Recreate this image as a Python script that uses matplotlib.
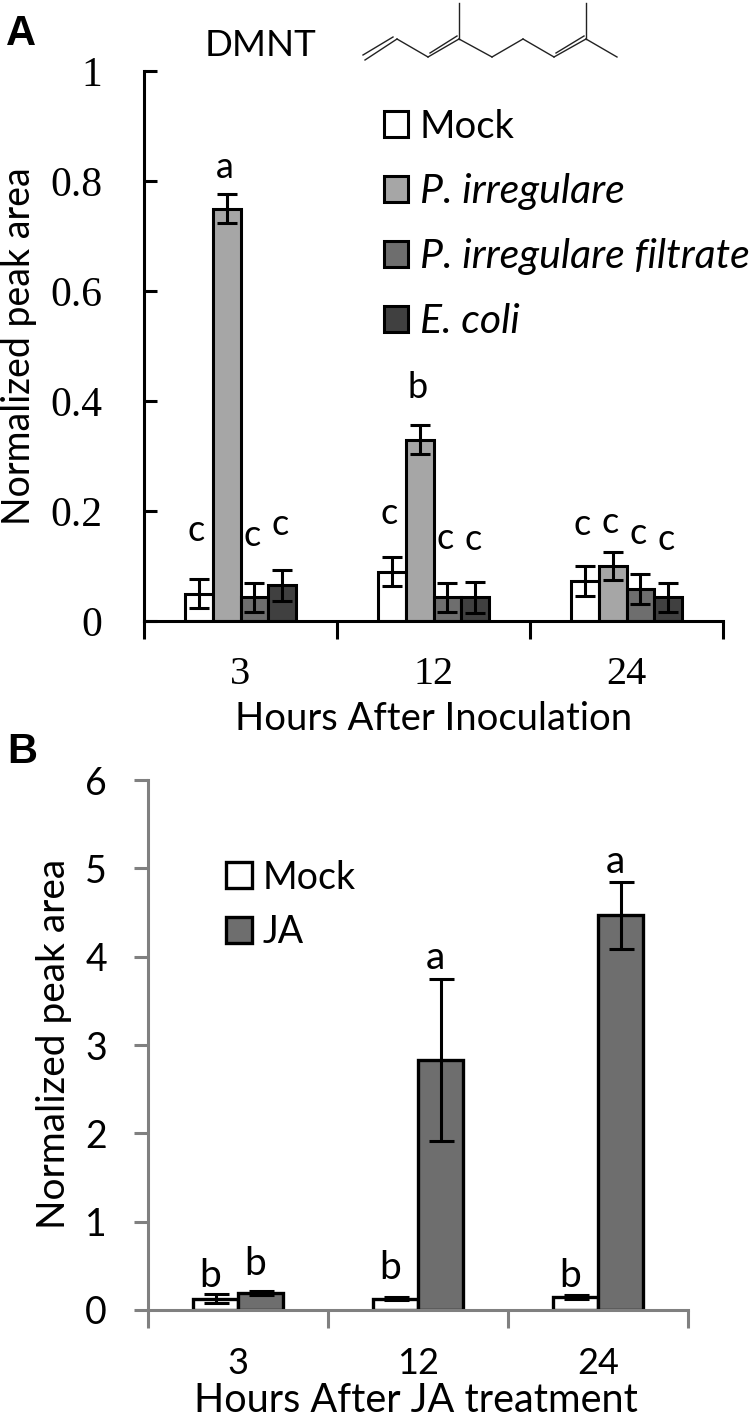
import numpy as np
import matplotlib
matplotlib.use('Agg')
import matplotlib.pyplot as plt

plt.rcParams['font.family'] = ['Lato', 'DejaVu Sans']
W, H = 752, 1419

# panel A
hours_a = ['3', '12', '24']
names_a = ['Mock', 'P. irregulare', 'P. irregulare filtrate', 'E. coli']
colors_a = ['white', '#a6a6a6', '#6e6e6e', '#404040']
vals_a = [[0.05, 0.09, 0.073],
          [0.75, 0.33, 0.10],
          [0.043, 0.043, 0.058],
          [0.065, 0.043, 0.043]]
errs_a = [[0.027, 0.027, 0.027],
          [0.026, 0.026, 0.026],
          [0.026, 0.027, 0.027],
          [0.028, 0.028, 0.027]]
letters_a = [['c', 'c', 'c'], ['a', 'b', 'c'], ['c', 'c', 'c'], ['c', 'c', 'c']]
letter_y_a = [[0.165, 0.195, 0.175], [0.825, 0.425, 0.18], [0.155, 0.15, 0.16], [0.175, 0.148, 0.148]]

# panel B
hours_b = ['3', '12', '24']
names_b = ['Mock', 'JA']
colors_b = ['white', '#6e6e6e']
vals_b = [[0.13, 0.13, 0.15], [0.19, 2.83, 4.47]]
errs_b = [[0.05, 0.02, 0.02], [0.025, 0.92, 0.38]]
letters_b = [['b', 'b', 'b'], ['b', 'a', 'a']]
letter_y_b = [[0.38, 0.48, 0.38], [0.52, 3.98, 5.07]]

# molecule outline (pixels of the figure)
bonds = [(365, 60, 397, 39), (397, 39, 428, 57), (428, 57, 459, 39), (459, 39, 492, 57),
         (492, 57, 523, 39), (523, 39, 554, 57), (554, 57, 586, 39), (586, 39, 617, 57),
         (459, 39, 459, 3), (586, 39, 586, 3), (363, 55, 393, 37), (430, 53, 457, 36), (556, 53, 584, 36)]


def px_axes(left, top, right, bottom):
    return fig.add_axes([left / W, 1 - bottom / H, (right - left) / W, (bottom - top) / H])


fig = plt.figure(figsize=(W / 100, H / 100), dpi=100)

# ---- A
ax = px_axes(144, 71, 723, 621)
x = np.arange(3)
w = 0.145
for i in range(4):
    pos = x + (i - 1.5) * w
    ax.bar(pos, vals_a[i], w, color=colors_a[i], edgecolor='black', linewidth=2.2, label=names_a[i],
           yerr=errs_a[i], error_kw=dict(ecolor='black', elinewidth=2.2, capsize=7, capthick=2.2))
    for j in range(3):
        ax.text(pos[j] - 0.01, letter_y_a[i][j], letters_a[i][j], ha='center', va='center', fontsize=26)
ax.set_xlim(-0.5, 2.5)
ax.set_ylim(0, 1)
ax.set_yticks([0, 0.2, 0.4, 0.6, 0.8, 1])
ax.set_yticklabels(['0', '0.2', '0.4', '0.6', '0.8', '1'], family='Liberation Serif', fontsize=30)
ax.set_xticks([-0.5, 0.5, 1.5, 2.5])
ax.set_xticklabels([])
ax.tick_params(axis='y', direction='in', length=9, width=2.2, pad=30)
ax.tick_params(axis='x', direction='out', length=13, width=2.2)
for s in ['top', 'right']:
    ax.spines[s].set_visible(False)
for s in ['left', 'bottom']:
    ax.spines[s].set_linewidth(2.2)
for j in range(3):
    ax.text(x[j], -0.098, hours_a[j], ha='center', va='center', family='Liberation Serif', fontsize=29)
fig.text(434 / W, 1 - 719 / H, 'Hours After Inoculation', ha='center', va='center', fontsize=27.5)
fig.text(19 / W, 1 - 346 / H, 'Normalized peak area', rotation=90, ha='center', va='center', fontsize=27)
h, l = ax.get_legend_handles_labels()
leg = ax.legend(h, l, loc='upper left', bbox_to_anchor=(0.415, 0.93), frameon=False, fontsize=29.5,
                handlelength=0.57, handleheight=0.6, handletextpad=0.3, labelspacing=0.68, borderpad=0, borderaxespad=0)
leg.get_texts()[0].set_fontsize(27.5)
for t in leg.get_texts()[1:]:
    t.set_style('italic')
fig.text(260 / W, 1 - 45 / H, 'DMNT', ha='center', va='center', fontsize=26.5)
fig.text(21 / W, 1 - 34 / H, 'A', ha='center', va='center', fontsize=30, fontweight='bold', family='Liberation Sans')
for b in bonds:
    fig.add_artist(plt.Line2D([b[0] / W, b[2] / W], [1 - b[1] / H, 1 - b[3] / H], color='#222222', linewidth=1))

# ---- B
gray = '#808080'
bx = px_axes(148, 780, 688, 1310)
w = 0.25
for i in range(2):
    pos = x + (i - 0.5) * w
    bx.bar(pos, vals_b[i], w, color=colors_b[i], edgecolor='black', linewidth=2.4, label=names_b[i],
           yerr=errs_b[i], error_kw=dict(ecolor='black', elinewidth=2.2, capsize=9, capthick=2.2))
    for j in range(3):
        bx.text(pos[j] - 0.03, letter_y_b[i][j], letters_b[i][j], ha='center', va='center', fontsize=28)
bx.set_xlim(-0.5, 2.5)
bx.set_ylim(0, 6)
bx.set_yticks(range(7))
bx.tick_params(axis='y', direction='out', length=10, width=2.2, color=gray, labelsize=27, pad=19.5)
bx.set_xticks([-0.5, 0.5, 1.5, 2.5])
bx.set_xticklabels([])
bx.tick_params(axis='x', direction='out', length=13, width=2.2, color=gray)
for s in ['top', 'right']:
    bx.spines[s].set_visible(False)
for s in ['left', 'bottom']:
    bx.spines[s].set_linewidth(2.2)
    bx.spines[s].set_color(gray)
for j in range(3):
    bx.text(x[j], -0.6, hours_b[j], ha='center', va='center', fontsize=26)
fig.text(416 / W, 1 - 1400 / H, 'Hours After JA treatment', ha='center', va='center', fontsize=28.5)
fig.text(54 / W, 1 - 1044 / H, 'Normalized peak area', rotation=90, ha='center', va='center', fontsize=28)
bx.legend(loc='upper left', bbox_to_anchor=(0.145, 0.85), frameon=False, fontsize=27,
          handlelength=0.69, handleheight=0.69, handletextpad=0.27, labelspacing=0.5, borderpad=0, borderaxespad=0)
fig.text(22 / W, 1 - 752 / H, 'B', ha='center', va='center', fontsize=30, fontweight='bold', family='Liberation Sans')

plt.savefig('out.png', dpi=100)
